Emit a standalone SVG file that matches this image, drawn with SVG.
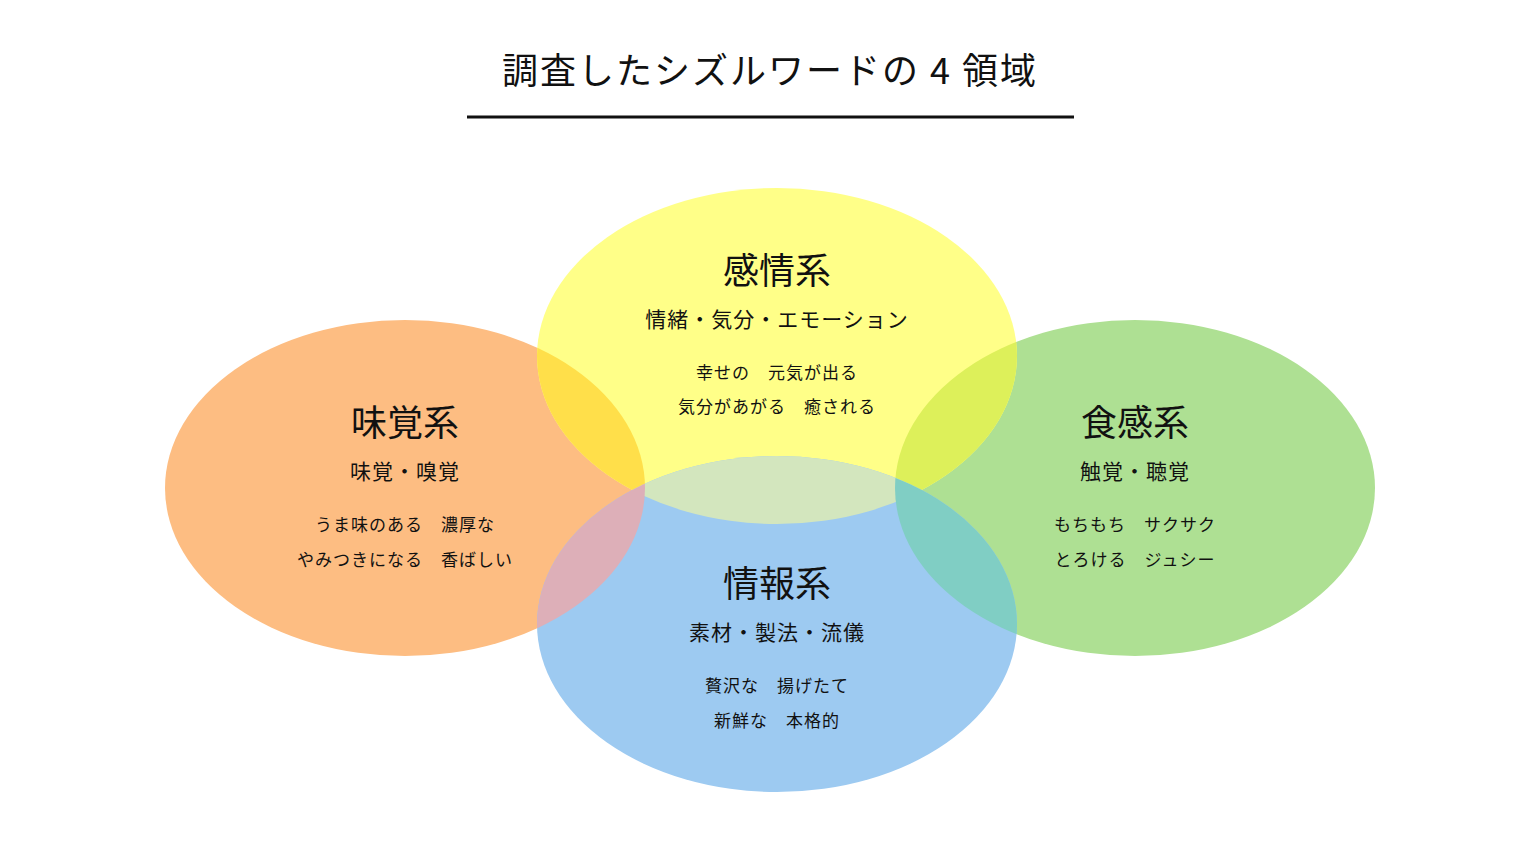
<svg xmlns="http://www.w3.org/2000/svg" width="1540" height="862" viewBox="0 0 1540 862">
<style>
text{font-family:"Noto Sans CJK JP","Noto Sans",sans-serif;fill:#111;text-anchor:middle}
.t{font-size:36px;letter-spacing:2px}
.h{font-size:36px}
.s{font-size:21px;letter-spacing:1px}
.i{font-size:17px;letter-spacing:1px}
</style>
<defs>
<clipPath id="cO"><ellipse cx="405" cy="488" rx="240" ry="168"/></clipPath>
<clipPath id="cY"><ellipse cx="777" cy="356" rx="240" ry="168"/></clipPath>
<clipPath id="cG"><ellipse cx="1135" cy="488" rx="240" ry="168"/></clipPath>
</defs>
<rect width="1540" height="862" fill="#fff"/>
<text class="t" x="770" y="84">調査したシズルワードの 4 領域</text>
<line x1="467" y1="117" x2="1074" y2="117" stroke="#111" stroke-width="3"/>
<g id="circles">
<ellipse cx="405" cy="488" rx="240" ry="168" fill="#FDBD82"/>
<ellipse cx="1135" cy="488" rx="240" ry="168" fill="#AEE093"/>
<ellipse cx="777" cy="356" rx="240" ry="168" fill="#FFFF88"/>
<ellipse cx="777" cy="624" rx="240" ry="168" fill="#9DCAF1"/>
<ellipse cx="777" cy="356" rx="240" ry="168" fill="#FFDF4A" clip-path="url(#cO)"/>
<ellipse cx="777" cy="356" rx="240" ry="168" fill="#DDF05A" clip-path="url(#cG)"/>
<ellipse cx="777" cy="624" rx="240" ry="168" fill="#D3E6BE" clip-path="url(#cY)"/>
<ellipse cx="777" cy="624" rx="240" ry="168" fill="#DDAFB8" clip-path="url(#cO)"/>
<ellipse cx="777" cy="624" rx="240" ry="168" fill="#80CEC4" clip-path="url(#cG)"/>
</g>
<g id="kanjo">
<text class="h" x="777" y="284">感情系</text>
<text class="s" x="777" y="327">情緒・気分・エモーション</text>
<text class="i" x="777" y="379">幸せの　元気が出る</text>
<text class="i" x="777" y="413">気分があがる　癒される</text>
</g>
<g id="mikaku">
<text class="h" x="405" y="436">味覚系</text>
<text class="s" x="405" y="479">味覚・嗅覚</text>
<text class="i" x="405" y="531">うま味のある　濃厚な</text>
<text class="i" x="405" y="566">やみつきになる　香ばしい</text>
</g>
<g id="shokkan">
<text class="h" x="1135" y="436">食感系</text>
<text class="s" x="1135" y="479">触覚・聴覚</text>
<text class="i" x="1135" y="531">もちもち　サクサク</text>
<text class="i" x="1135" y="566">とろける　ジュシー</text>
</g>
<g id="joho">
<text class="h" x="777" y="597">情報系</text>
<text class="s" x="777" y="640">素材・製法・流儀</text>
<text class="i" x="777" y="692">贅沢な　揚げたて</text>
<text class="i" x="777" y="727">新鮮な　本格的</text>
</g>
<g id="connectors"/>
</svg>
